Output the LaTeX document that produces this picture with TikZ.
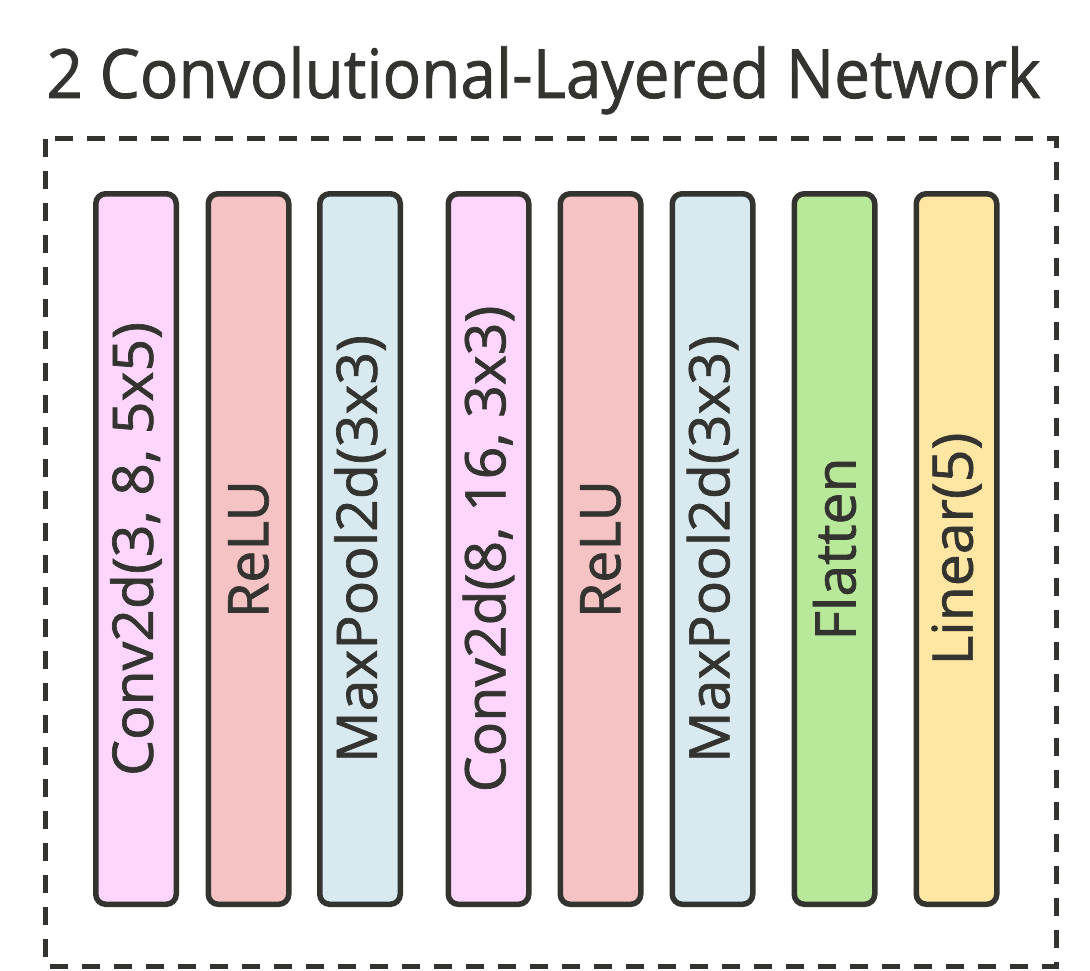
\documentclass[tikz,border=0pt]{standalone}
\usepackage{fontspec}
\setmainfont{Open Sans}[FakeBold=1.2]
\usepackage{graphicx}
\definecolor{ink}{HTML}{333330}
\definecolor{convc}{HTML}{FDD5FD}
\definecolor{reluc}{HTML}{F5C3C3}
\definecolor{poolc}{HTML}{D8EAF0}
\definecolor{flatc}{HTML}{B8E99A}
\definecolor{linc}{HTML}{FFE6A3}
\tikzset{
  layerbox/.style={draw=ink, line width=5.5pt, rounded corners=10pt, rotate=90,
    minimum width=710.5pt, minimum height=80.5pt, inner sep=0pt, text=ink,
    font=\fontsize{56}{60}\selectfont},
  frame/.style={draw=ink, line width=5pt, dash pattern=on 18pt off 14pt},
}
\newcommand{\lbl}[1]{\scalebox{1.02}[1]{#1}}
\newcommand{\ttl}[1]{\scalebox{0.94}[1]{#1}}
\begin{document}
\begin{tikzpicture}[x=1pt,y=-1pt]
\useasboundingbox (0,0) rectangle (1090,971);
\node[text=ink, font=\fontsize{68}{70}\selectfont, anchor=base] (title) at (543.5,98) {\ttl{2 Convolutional-Layered Network}};
\draw[frame] (45,139) rectangle (1056,966);
\node[layerbox, fill=convc] (c1) at (136,549) {\lbl{Conv2d(3, 8, 5x5)}};
\node[layerbox, fill=reluc] (r1) at (248.5,549) {\lbl{ReLU}};
\node[layerbox, fill=poolc] (p1) at (360,549) {\lbl{MaxPool2d(3x3)}};
\node[layerbox, fill=convc] (c2) at (488.5,549) {\lbl{Conv2d(8, 16, 3x3)}};
\node[layerbox, fill=reluc] (r2) at (600.5,549) {\lbl{ReLU}};
\node[layerbox, fill=poolc] (p2) at (712.5,549) {\lbl{MaxPool2d(3x3)}};
\node[layerbox, fill=flatc] (fl) at (834.5,549) {\lbl{Flatten}};
\node[layerbox, fill=linc] (li) at (956.5,549) {\lbl{Linear(5)}};
\end{tikzpicture}
\end{document}
